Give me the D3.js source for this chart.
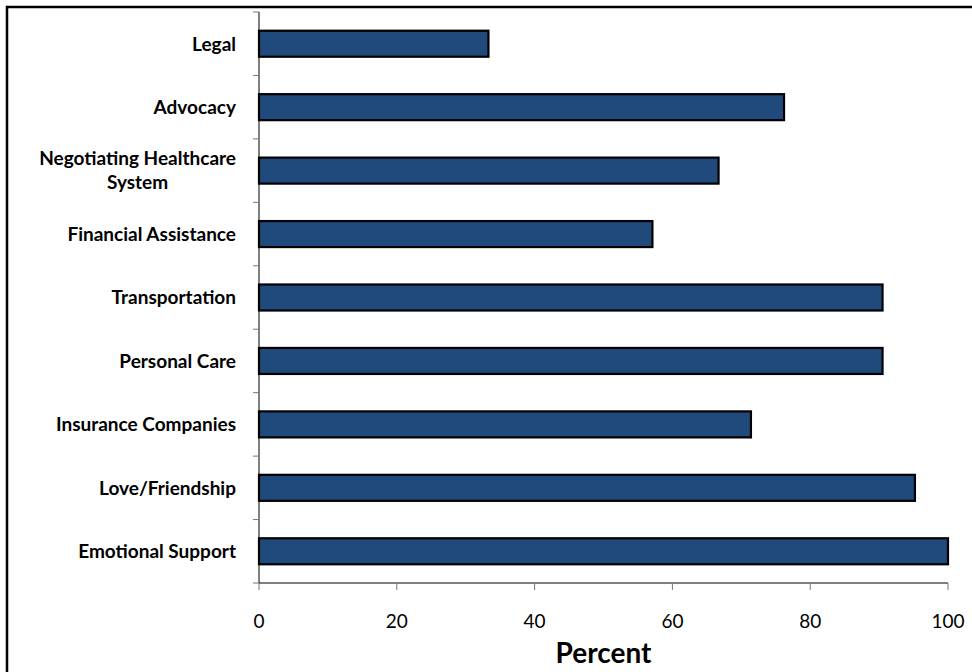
<!DOCTYPE html>
<html>
<head>
<meta charset="utf-8">
<script src="https://cdn.jsdelivr.net/npm/d3@7"></script>
<style>
  body { margin: 0; background: #fff; }
  svg { display: block; }
</style>
</head>
<body>
<div id="chart"></div>
<script>
// categories listed top to bottom
var categories = ["Legal", "Advocacy", "Negotiating Healthcare|System", "Financial Assistance",
                  "Transportation", "Personal Care", "Insurance Companies", "Love/Friendship",
                  "Emotional Support"];
var percents = [33.3, 76.2, 66.7, 57.1, 90.5, 90.5, 71.4, 95.2, 100];
var xTicks = [0, 20, 40, 60, 80, 100];
var xTitle = "Percent";

var W = 972, H = 672,
    plotL = 259, plotR = 948, plotT = 12, plotB = 583;

var svg = d3.select("#chart").append("svg")
      .attr("width", W)
      .attr("height", H);

/* outer frame */
svg.append("rect")
  .attr("x", 7).attr("y", 7)
  .attr("width", W + 20).attr("height", H + 20)
  .style("fill", "none")
  .style("stroke", "#000")
  .style("stroke-width", 2.5);

var x = d3.scaleLinear().domain([0, 100]).range([plotL, plotR]);
var y = d3.scaleBand().domain(categories).range([plotT, plotB]).paddingInner(0.59).paddingOuter(0.295);
var band = d3.scaleBand().domain(categories).range([plotT, plotB]);

// bars
svg.selectAll(".bar")
  .data(categories)
  .enter().append("rect")
  .attr("class", "bar")
  .attr("x", x(0))
  .attr("y", function(d) { return y(d); })
  .attr("width", function(d, i) { return x(percents[i]) - x(0); })
  .attr("height", y.bandwidth())
  .style("fill", "#214a7c")
  .style("stroke", "#000")
  .style("stroke-width", 2.2);

/* Y axis line and category ticks at band edges */
svg.append("line")
  .attr("x1", plotL).attr("x2", plotL)
  .attr("y1", plotT).attr("y2", plotB)
  .style("stroke", "#000").style("stroke-width", 1);

var edges = categories.map(function(d) { return band(d); }).concat([plotB]);
svg.selectAll(".ytick")
  .data(edges)
  .enter().append("line")
  .attr("class", "ytick")
  .attr("x1", plotL - 6).attr("x2", plotL)
  .attr("y1", function(d) { return d; })
  .attr("y2", function(d) { return d; })
  .style("stroke", "#777").style("stroke-width", 1);

/* category labels, wrapped on | */
svg.selectAll(".ylabel")
  .data(categories)
  .enter().append("text")
  .attr("class", "ylabel")
  .style("font", "bold 19px Lato, sans-serif")
  .style("fill", "#000")
  .each(function(d) {
    var lines = d.split("|"),
        t = d3.select(this),
        cy = band(d) + band.bandwidth() / 2,
        lh = 24,
        y0 = cy - (lines.length - 1) * lh / 2;
    lines.forEach(function(s, k) {
      t.append("tspan")
        .attr("x", plotL - 23)
        .attr("y", y0 + k * lh)
        .attr("dy", "0.36em")
        .attr("text-anchor", "end")
        .text(s);
    });
    if (lines.length > 1) {
      // second line centered under the first one
      var w = t.select("tspan").node().getComputedTextLength(),
          cx = plotL - 23 - w / 2;
      t.selectAll("tspan").filter(function(s, k) { return k > 0; })
        .attr("x", cx).attr("text-anchor", "middle");
    }
  });

/* X axis */
svg.append("line")
  .attr("x1", plotL).attr("x2", plotR)
  .attr("y1", plotB).attr("y2", plotB)
  .style("stroke", "#000").style("stroke-width", 1);

svg.selectAll(".xtick")
  .data(xTicks)
  .enter().append("line")
  .attr("class", "xtick")
  .attr("x1", x).attr("x2", x)
  .attr("y1", plotB).attr("y2", plotB + 7)
  .style("stroke", "#777").style("stroke-width", 1);

svg.selectAll(".xlabel")
  .data(xTicks)
  .enter().append("text")
  .attr("class", "xlabel")
  .attr("x", x)
  .attr("y", plotB + 38)
  .attr("dy", "0.36em")
  .attr("text-anchor", "middle")
  .style("font", "19px Lato, sans-serif")
  .style("fill", "#000")
  .text(function(d) { return d; });

svg.append("text")
  .attr("x", (plotL + plotR) / 2)
  .attr("y", 663)
  .attr("text-anchor", "middle")
  .style("font", "bold 28px Lato, sans-serif")
  .style("fill", "#000")
  .text(xTitle);
</script>
</body>
</html>
